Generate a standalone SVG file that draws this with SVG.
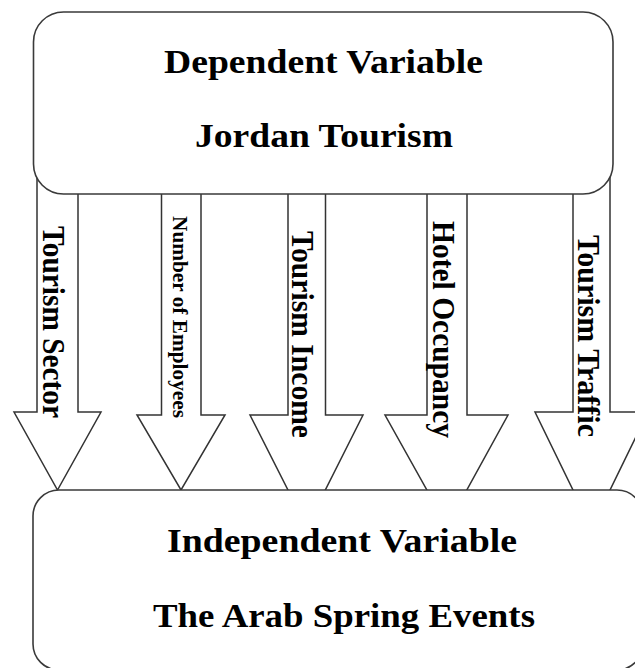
<svg xmlns="http://www.w3.org/2000/svg" width="635" height="668" viewBox="0 0 635 668">
<style>
.box{fill:#fff;stroke:#3a3a3a;stroke-width:1.6}
.arrow{fill:#fff;stroke:#333;stroke-width:1.5;stroke-linejoin:miter}
.t{font-family:"Liberation Serif","Times New Roman",serif;font-weight:bold;fill:#000}
.h{font-size:34px}
.v{font-size:32px}
.vs{font-size:22px}
</style>
<rect width="635" height="668" fill="#fff"/>
<g id="connectors">
  <g id="arrow-tourism-sector">
    <polygon class="arrow" points="37,170 78,170 78,412 101,412 57.5,490 14,412 37,412"/>
    <text class="t v" transform="translate(43,226) rotate(90)" textLength="192" lengthAdjust="spacingAndGlyphs">Tourism Sector</text>
  </g>
  <g id="arrow-employees">
    <polygon class="arrow" points="161.5,170 201,170 201,415 225,415 181,490 137,415 161.5,415"/>
    <text class="t vs" transform="translate(173,216) rotate(90)" textLength="202" lengthAdjust="spacingAndGlyphs">Number of Employees</text>
  </g>
  <g id="arrow-tourism-income">
    <polygon class="arrow" points="288,170 325.5,170 325.5,415 363,415 306.7,527 250,415 288,415"/>
    <text class="t v" transform="translate(292,231) rotate(90)" textLength="207" lengthAdjust="spacingAndGlyphs">Tourism Income</text>
  </g>
  <g id="arrow-hotel-occupancy">
    <polygon class="arrow" points="427,170 467,170 467,415 508,415 447,526 385,415 427,415"/>
    <text class="t v" transform="translate(433,221) rotate(90)" textLength="217" lengthAdjust="spacingAndGlyphs">Hotel Occupancy</text>
  </g>
  <g id="arrow-tourism-traffic">
    <polygon class="arrow" points="573,170 610,170 610,412 648,412 591.5,528 535,412 573,412"/>
    <text class="t v" transform="translate(578,235) rotate(90)" textLength="202" lengthAdjust="spacingAndGlyphs">Tourism Traffic</text>
  </g>
</g>
<g id="dependent">
  <rect class="box" x="33.5" y="12" width="579.5" height="182" rx="30" ry="30"/>
  <text class="t h" x="164" y="73" textLength="319" lengthAdjust="spacingAndGlyphs">Dependent Variable</text>
  <text class="t h" x="195" y="147" textLength="258" lengthAdjust="spacingAndGlyphs">Jordan Tourism</text>
</g>
<g id="independent">
  <rect class="box" x="33" y="490" width="610" height="180" rx="26" ry="26"/>
  <text class="t h" x="167" y="552" textLength="350" lengthAdjust="spacingAndGlyphs">Independent Variable</text>
  <text class="t h" x="153" y="627" textLength="382" lengthAdjust="spacingAndGlyphs">The Arab Spring Events</text>
</g>
</svg>
